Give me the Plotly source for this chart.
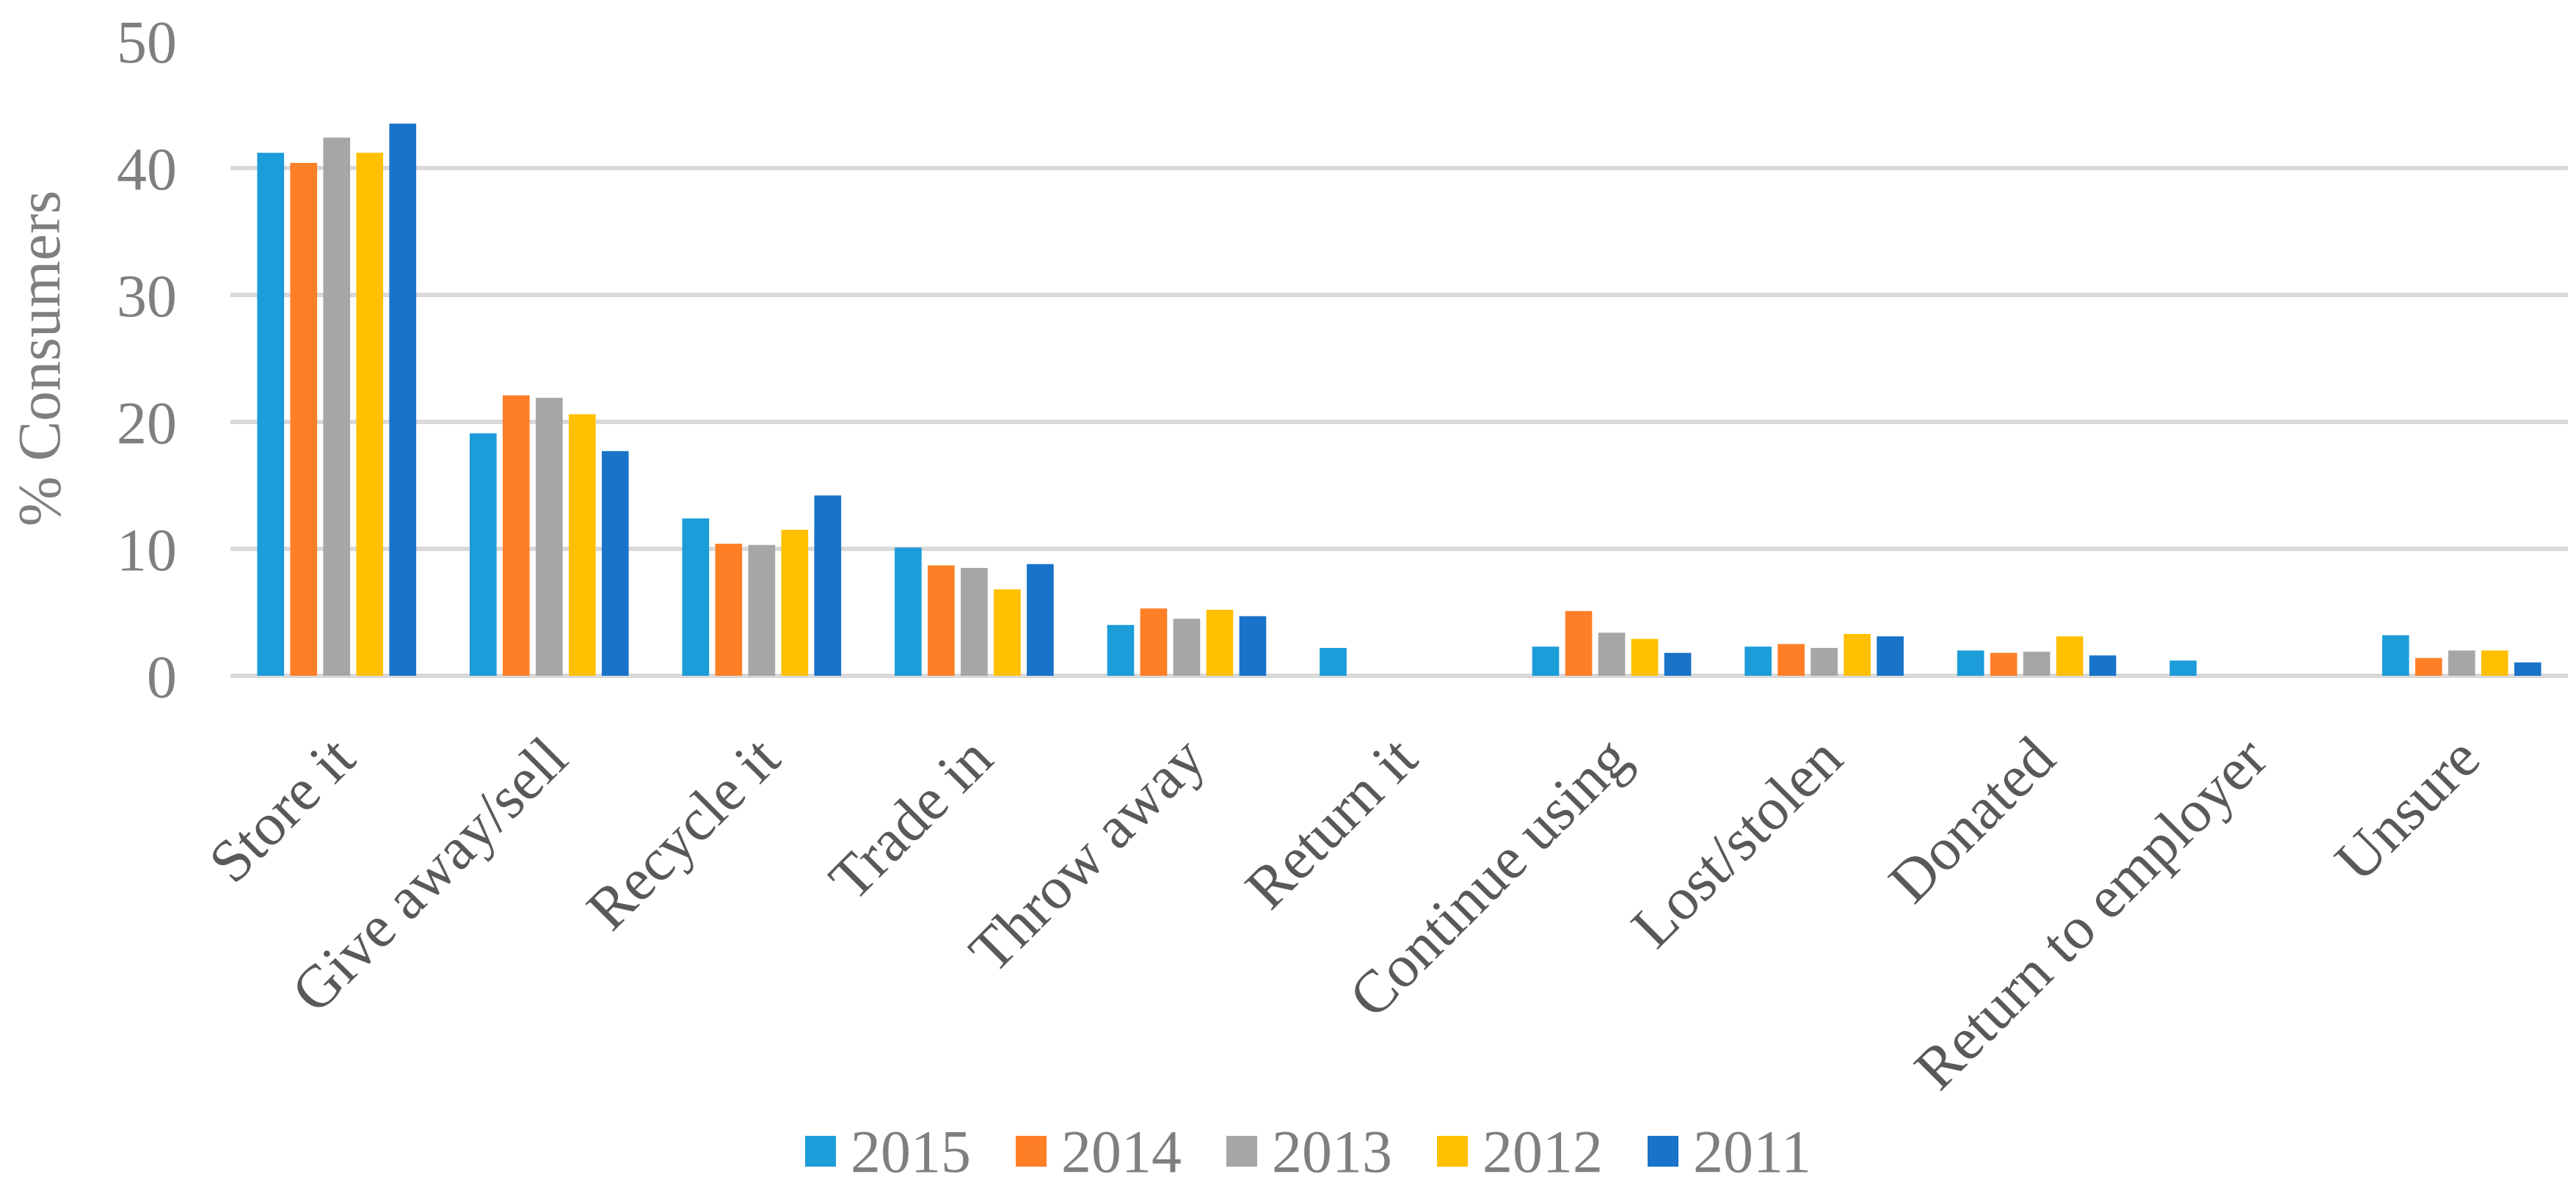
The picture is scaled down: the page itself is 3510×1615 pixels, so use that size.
import plotly.graph_objects as go

categories = ["Store it", "Give away/sell", "Recycle it", "Trade in", "Throw away",
              "Return it", "Continue using", "Lost/stolen", "Donated",
              "Return to employer", "Unsure"]
years = ["2015", "2014", "2013", "2012", "2011"]

v2015 = [41.2, 19.1, 12.4, 10.1, 4.0, 2.2, 2.3, 2.3, 2.0, 1.2, 3.2]
v2014 = [40.4, 22.1, 10.4, 8.7, 5.3, None, 5.1, 2.5, 1.8, None, 1.4]
v2013 = [42.4, 21.9, 10.3, 8.5, 4.5, None, 3.4, 2.2, 1.9, None, 2.0]
v2012 = [41.2, 20.6, 11.5, 6.8, 5.2, None, 2.9, 3.3, 3.1, None, 2.0]
v2011 = [43.5, 17.7, 14.2, 8.8, 4.7, None, 1.8, 3.1, 1.6, None, 1.05]
series = [v2015, v2014, v2013, v2012, v2011]

colors = ["#1C9CD8", "#FF7F27", "#A6A6A6", "#FFC000", "#1873C9"]

y_ticks = [0, 10, 20, 30, 40, 50]

FONT = "Liberation Serif, Times New Roman, serif"
W, H = 3510, 1615
ML, MR, MT, MB = 306, 19, 48, 702

fig = go.Figure()
for name, vals, col in zip(years, series, colors):
    fig.add_trace(go.Bar(x=categories, y=vals, name=name, marker_color=col,
                         marker_line_width=0, showlegend=False))

# manual legend (large square keys like the original)
pw = W - ML - MR
ph = H - MT - MB
key_left0 = 1089
step = 287
key_size = 42
key_top = 1540
for i, (name, col) in enumerate(zip(years, colors)):
    x0 = key_left0 + i * step
    fig.add_shape(type="rect", xref="paper", yref="paper",
                  x0=(x0 - ML) / pw, x1=(x0 + key_size - ML) / pw,
                  y0=(H - MB - key_top) / ph, y1=(H - MB - key_top - key_size) / ph,
                  fillcolor=col, line_width=0)
    fig.add_annotation(xref="paper", yref="paper",
                       x=(x0 + 60 - ML) / pw, y=(H - MB - key_top - key_size / 2) / ph,
                       text=name, showarrow=False, xanchor="left", yanchor="middle",
                       font=dict(family=FONT, size=82, color="#7F7F7F"))

fig.update_layout(
    width=W, height=H,
    margin=dict(l=ML, r=MR, t=MT, b=MB, autoexpand=False),
    paper_bgcolor="white", plot_bgcolor="white",
    barmode="group", bargap=0.223, bargroupgap=0.185,
    showlegend=False,
    font=dict(family=FONT),
)
fig.update_xaxes(
    tickangle=-45, tickfont=dict(family=FONT, size=82, color="#595959"),
    showgrid=False, showline=False, zeroline=False, automargin=False,
    ticks="outside", ticklen=30, tickcolor="rgba(0,0,0,0)",
)
fig.update_yaxes(
    range=[0, 50], tickvals=y_ticks, ticktext=[str(t) for t in y_ticks],
    tickfont=dict(family=FONT, size=82, color="#7F7F7F"),
    showgrid=True, gridcolor="#D9D9D9", gridwidth=6, automargin=False,
    zeroline=True, zerolinecolor="#D9D9D9", zerolinewidth=6,
    showline=False, ticks="", ticklabelstandoff=72,
    title=dict(text="% Consumers", font=dict(family=FONT, size=82, color="#7F7F7F"),
               standoff=60),
)

fig.write_html("out.html")
